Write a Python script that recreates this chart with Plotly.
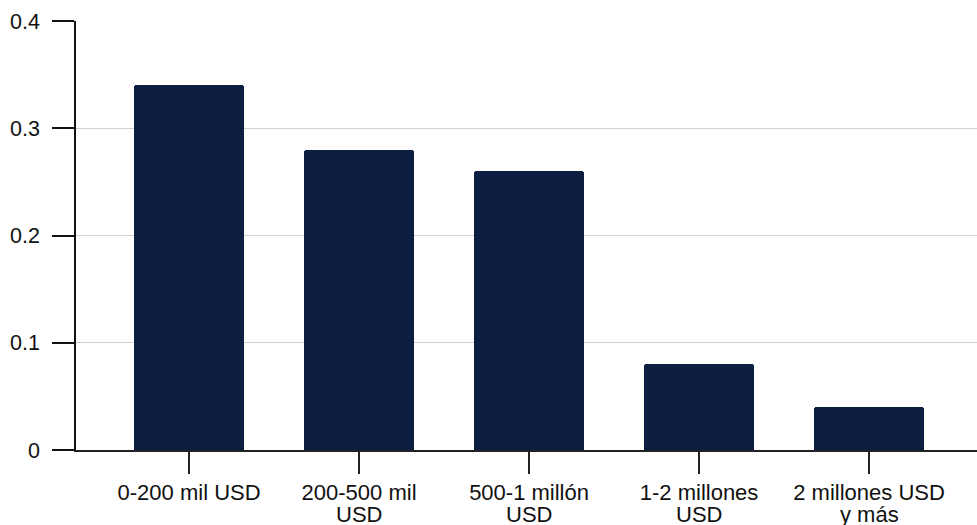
import plotly.graph_objects as go

categories = ["0-200 mil USD", "200-500 mil USD", "500-1 millón USD", "1-2 millones USD", "2 millones USD y más"]
label_line1 = ["0-200 mil USD", "200-500 mil", "500-1 millón", "1-2 millones", "2 millones USD"]
label_line2 = ["", "USD", "USD", "USD", "y más"]
values = [0.34, 0.28, 0.26, 0.08, 0.04]
y_ticks = [0, 0.1, 0.2, 0.3, 0.4]
y_tick_labels = ["0", "0.1", "0.2", "0.3", "0.4"]

FONT = "Liberation Sans, Arial, Helvetica, sans-serif"
FSX = 22
FSY = 21.5

fig = go.Figure(go.Bar(
    x=categories, y=values,
    marker=dict(color="#0c1f40", cornerradius=3, line=dict(width=0)),
    width=0.647,
))

for cat, l2 in zip(categories, label_line2):
    if l2:
        fig.add_annotation(
            x=cat, y=0, xref="x", yref="paper", text=l2, showarrow=False,
            yanchor="top", yshift=-51, borderpad=0,
            font=dict(family=FONT, size=FSX, color="#111"),
        )

fig.update_layout(
    width=977, height=525, autosize=False,
    margin=dict(l=76, r=0, t=21, b=75, autoexpand=False),
    paper_bgcolor="white", plot_bgcolor="white",
    font=dict(family=FONT, size=FSX, color="#111"),
    showlegend=False,
    bargap=0,
)
fig.update_xaxes(
    range=[-0.665, 4.635],
    tickvals=categories, ticktext=label_line1,
    showline=True, linecolor="#222", linewidth=1.5,
    ticks="outside", ticklen=22, tickcolor="#222", tickwidth=1.5,
    showgrid=False, tickfont=dict(family=FONT, size=FSX, color="#111"),
    automargin=False, ticklabelstandoff=0,
)
fig.update_yaxes(
    range=[0, 0.4],
    tickvals=y_ticks, ticktext=y_tick_labels,
    showline=True, linecolor="#111", linewidth=1.5,
    ticks="outside", ticklen=22, tickcolor="#111", tickwidth=1.5,
    showgrid=True, gridcolor="#d0d0d0", gridwidth=1,
    zeroline=False, ticklabelstandoff=8, automargin=False,
    tickfont=dict(family=FONT, size=FSY, color="#111"),
)

post = (
    "document.body.style.margin='0';"
    "document.body.style.padding='0';"
    "document.body.style.overflow='hidden';"
    "var gd=document.getElementById('{plot_id}');"
    "Plotly.relayout(gd,{width:977,height:525});"
)
fig.write_html("out.html", config={"responsive": False, "displayModeBar": False}, post_script=post)
